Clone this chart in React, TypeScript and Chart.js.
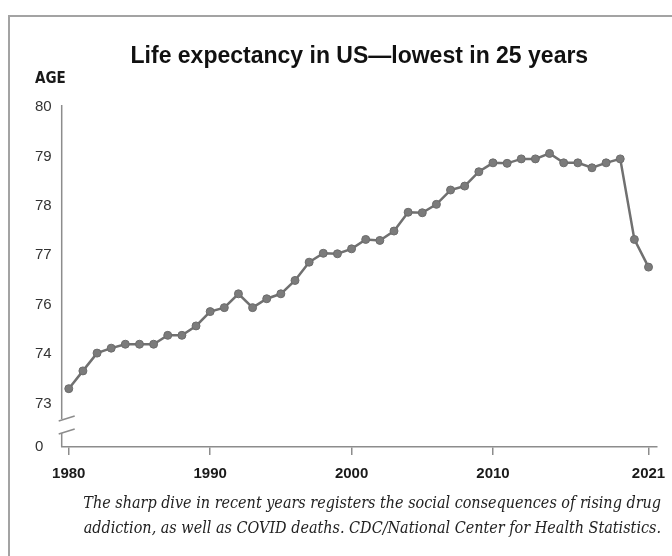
import { useEffect, useRef } from "react";
import { Chart, registerables } from "chart.js";

Chart.register(...registerables);

const years = [
  1980, 1981, 1982, 1983, 1984, 1985, 1986, 1987, 1988, 1989,
  1990, 1991, 1992, 1993, 1994, 1995, 1996, 1997, 1998, 1999,
  2000, 2001, 2002, 2003, 2004, 2005, 2006, 2007, 2008, 2009,
  2010, 2011, 2012, 2013, 2014, 2015, 2016, 2017, 2018, 2019,
  2020, 2021,
];

// values in the chart's axis units (as drawn in the reference)
const lifeExpectancy = [
  74.3, 74.66, 75.02, 75.12, 75.2, 75.2, 75.2, 75.38, 75.38, 75.57,
  75.86, 75.94, 76.22, 75.94, 76.12, 76.22, 76.49, 76.86, 77.04, 77.03,
  77.13, 77.32, 77.3, 77.49, 77.87, 77.86, 78.03, 78.32, 78.4, 78.69,
  78.87, 78.86, 78.95, 78.95, 79.06, 78.87, 78.87, 78.77, 78.87, 78.95,
  77.32, 76.76,
];

const xTickYears = [1980, 1990, 2000, 2010, 2021];
const yTickValues = [73.12, 74, 75, 76, 77, 78, 79, 80];
const yTickLabels = ["0", "73", "74", "76", "77", "78", "79", "80"];

const titleText = "Life expectancy in US\u2014lowest in 25 years";
const axisLabel = "AGE";
const captionLines = [
  "The sharp dive in recent years registers the social consequences of rising drug",
  "addiction, as well as COVID deaths. CDC/National Center for Health Statistics.",
];

const AXIS_COLOR = "#8c8c8c";

const axisBreakPlugin = {
  id: "axisBreak",
  afterDraw(chart: any) {
    const { ctx, chartArea } = chart;
    const x = chartArea.left;
    const bottom = chartArea.bottom;
    ctx.save();
    ctx.strokeStyle = AXIS_COLOR;
    ctx.lineWidth = 1.5;
    ctx.beginPath();
    ctx.moveTo(x, chartArea.top - 2);
    ctx.lineTo(x, bottom - 28);
    ctx.moveTo(x, bottom - 14);
    ctx.lineTo(x, bottom);
    ctx.stroke();
    ctx.beginPath();
    ctx.moveTo(x - 3, bottom - 26);
    ctx.lineTo(x + 13, bottom - 31);
    ctx.moveTo(x - 3, bottom - 13);
    ctx.lineTo(x + 13, bottom - 18);
    ctx.stroke();
    // axis name
    const yScale = chart.scales.y;
    ctx.fillStyle = "#1a1a1a";
    ctx.font = 'bold 15px "Liberation Sans Narrow", "DejaVu Sans Condensed", sans-serif';
    ctx.textAlign = "left";
    ctx.textBaseline = "alphabetic";
    ctx.fillText(axisLabel, yScale.left, chartArea.top - 24);
    ctx.restore();
  },
};

export default function App() {
  const canvasRef = useRef<HTMLCanvasElement | null>(null);

  useEffect(() => {
    if (!canvasRef.current) return;
    const chart = new Chart(canvasRef.current, {
      type: "line",
      data: {
        datasets: [
          {
            data: years.map((yr, i) => ({ x: yr, y: lifeExpectancy[i] })),
            borderColor: "#707070",
            borderWidth: 2.5,
            pointRadius: 4,
            pointBackgroundColor: "#7b7b7b",
            pointBorderColor: "#6c6c6c",
            pointBorderWidth: 1,
            tension: 0,
          },
        ],
      },
      options: {
        responsive: false,
        animation: false,
        devicePixelRatio: 1,
        layout: { padding: { left: 35, right: 15, top: 0, bottom: 69 } },
        plugins: {
          legend: { display: false },
          tooltip: { enabled: false },
          title: {
            display: true,
            text: titleText,
            fullSize: false,
            color: "#111",
            font: { family: '"Liberation Sans", Arial, sans-serif', size: 23, weight: "bold" },
            padding: { top: 43, bottom: 36.4 },
          },
        },
        scales: {
          x: {
            type: "linear",
            min: 1979.5,
            max: 2021.6,
            afterBuildTicks: (scale: any) => {
              scale.ticks = xTickYears.map((v) => ({ value: v }));
            },
            afterFit: (scale: any) => {
              scale.height = 40;
              scale.paddingLeft = 0;
              scale.paddingRight = 0;
            },
            grid: {
              drawOnChartArea: false,
              drawTicks: true,
              tickLength: 8,
              color: AXIS_COLOR,
              lineWidth: 1.5,
            },
            border: { display: true, color: AXIS_COLOR, width: 1.5 },
            ticks: {
              padding: 10,
              maxRotation: 0,
              color: "#1a1a1a",
              font: { family: '"Liberation Sans", Arial, sans-serif', size: 15, weight: "bold" },
              callback: (v: any) => String(v),
            },
          },
          y: {
            type: "linear",
            min: 73.12,
            max: 80,
            afterBuildTicks: (scale: any) => {
              scale.ticks = yTickValues.map((v) => ({ value: v }));
            },
            afterFit: (scale: any) => {
              scale.width = 26.7;
              scale.paddingTop = 0;
              scale.paddingBottom = 0;
            },
            grid: { display: false },
            border: { display: false },
            ticks: {
              crossAlign: "far",
              padding: 10,
              color: "#333",
              font: { family: '"Liberation Sans", Arial, sans-serif', size: 15 },
              callback: (v: any) => {
                const idx = yTickValues.indexOf(Number(v));
                return idx >= 0 ? yTickLabels[idx] : "";
              },
            },
          },
        },
      },
      plugins: [axisBreakPlugin],
    } as any);
    return () => chart.destroy();
  }, []);

  return (
    <div
      style={{
        position: "fixed",
        left: 0,
        top: 0,
        width: 672,
        height: 556,
        background: "#fff",
        overflow: "hidden",
      }}
    >
      <div
        style={{
          position: "absolute",
          left: 8,
          top: 15,
          right: -10,
          bottom: -10,
          borderTop: "2px solid #a3a3a3",
          borderLeft: "2px solid #a3a3a3",
        }}
      />
      <canvas
        ref={canvasRef}
        width={672}
        height={556}
        style={{ position: "absolute", left: 0, top: 0, width: 672, height: 556 }}
      />
      <div
        style={{
          position: "absolute",
          right: 11,
          top: 490,
          textAlign: "right",
          fontFamily: '"DejaVu Serif Condensed", "DejaVu Serif", serif',
          fontStyle: "italic",
          fontSize: 16,
          lineHeight: "25px",
          color: "#222",
          whiteSpace: "nowrap",
        }}
      >
        {captionLines[0]}
        <br />
        {captionLines[1]}
      </div>
    </div>
  );
}
